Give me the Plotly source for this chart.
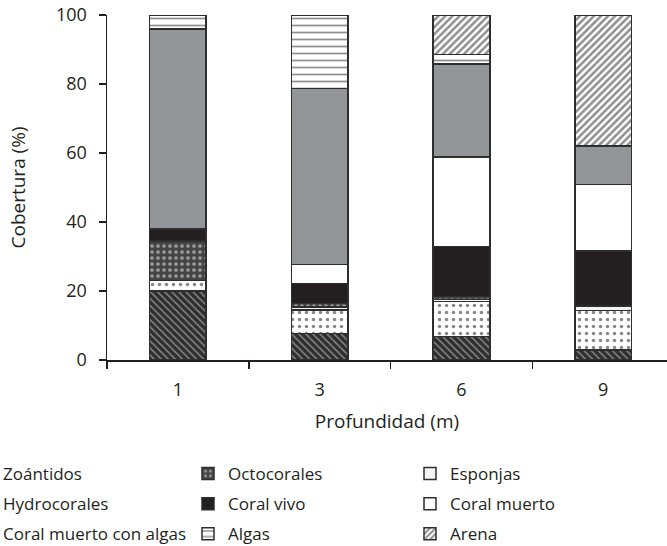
import plotly.graph_objects as go

depths = ["1", "3", "6", "9"]

zoantidos = [20.0, 7.7, 6.8, 2.9]
hydrocorales = [3.0, 6.8, 10.1, 11.4]
esponjas = [0.0, 0.8, 0.7, 1.4]
octocorales = [11.5, 1.1, 0.8, 0.0]
coral_vivo = [3.5, 5.8, 14.5, 15.9]
coral_muerto = [0.0, 5.5, 26.0, 19.3]
coral_muerto_algas = [58.0, 51.0, 26.9, 11.2]
algas = [4.0, 21.3, 2.8, 0.0]
arena = [0.0, 0.0, 11.4, 37.9]

INK = "#231f20"
LINE = "#2e2e2e"
FONT = "Open Sans"

series = [
    ("Zoántidos", zoantidos, dict(color="#333333", pattern=dict(shape="\\", fgcolor="#dddddd", bgcolor="#2e2e2e", size=5, solidity=0.3)), "legend"),
    ("Hydrocorales", hydrocorales, dict(color="white", pattern=dict(shape=".", fgcolor="#111111", bgcolor="white", size=7, solidity=0.2)), "legend"),
    ("Esponjas", esponjas, dict(color="#f4f4f4"), "legend3"),
    ("Octocorales", octocorales, dict(color="#555555", pattern=dict(shape=".", fgcolor="#f0f0f0", bgcolor="#444444", size=6, solidity=0.3)), "legend2"),
    ("Coral vivo", coral_vivo, dict(color=INK), "legend2"),
    ("Coral muerto", coral_muerto, dict(color="white"), "legend3"),
    ("Coral muerto con algas", coral_muerto_algas, dict(color="#939598"), "legend"),
    ("Algas", algas, dict(color="white", pattern=dict(shape="-", fgcolor="#222222", bgcolor="white", size=7, solidity=0.25)), "legend2"),
    ("Arena", arena, dict(color="white", pattern=dict(shape="/", fgcolor="#1e1e1e", bgcolor="white", size=5, solidity=0.5)), "legend3"),
]

fig = go.Figure()
for i, (name, vals, marker, leg) in enumerate(series):
    m = dict(marker)
    m["line"] = dict(color=LINE, width=1.5)
    fig.add_trace(go.Bar(
        x=depths, y=vals, name=name, marker=m, width=0.4,
        legend=leg, legendgroup=name,
    ))

legend_common = dict(
    orientation="v", traceorder="grouped", tracegroupgap=5,
    font=dict(family=FONT, size=17, color=INK),
    bgcolor="rgba(0,0,0,0)", borderwidth=0,
    xref="paper", yref="paper", xanchor="left", yanchor="top",
    itemclick=False, itemdoubleclick=False,
)
plot_l, plot_w, plot_t, plot_h = 107, 560, 15, 345


def px_x(px):
    return (px - plot_l) / plot_w


def px_y(py):
    return (plot_t + plot_h - py) / plot_h


fig.update_layout(
    width=667, height=546,
    margin=dict(l=plot_l, r=0, t=plot_t, b=546 - plot_t - plot_h, autoexpand=False),
    paper_bgcolor="white", plot_bgcolor="white",
    barmode="stack", bargap=0.6,
    font=dict(family=FONT, size=18, color=INK),
    showlegend=True,
    legend=dict(legend_common, x=px_x(-37), y=px_y(456)),
    legend2=dict(legend_common, x=px_x(188), y=px_y(456)),
    legend3=dict(legend_common, x=px_x(410), y=px_y(456)),
    xaxis=dict(
        type="category", range=[-0.5, 3.45], tickson="boundaries",
        ticks="outside", ticklen=7, tickwidth=1.5, tickcolor=INK,
        showline=True, linecolor=INK, linewidth=1.5, showgrid=False, zeroline=False,
        tickfont=dict(family=FONT, size=18, color=INK), ticklabelstandoff=13,
        title=dict(text="Profundidad (m)", font=dict(family=FONT, size=19, color=INK), standoff=14),
    ),
    yaxis=dict(
        range=[0, 100], dtick=20, tick0=0,
        ticks="outside", ticklen=7, tickwidth=1.5, tickcolor=INK,
        showline=True, linecolor=INK, linewidth=1.5, showgrid=False, zeroline=False,
        tickfont=dict(family=FONT, size=18, color=INK), ticklabelstandoff=8,
        title=dict(text="Cobertura (%)", font=dict(family=FONT, size=19, color=INK), standoff=25),
    ),
)

fig.write_html(
    "out.html",
    config={"displayModeBar": False, "staticPlot": True},
    post_script="document.body.style.margin='0';document.body.style.overflow='hidden';",
)
